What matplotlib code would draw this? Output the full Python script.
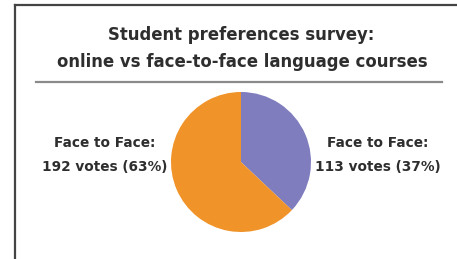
import matplotlib
matplotlib.use('Agg')
import matplotlib.pyplot as plt
from matplotlib.lines import Line2D

plt.rcParams['font.family'] = ['DejaVu Sans']

title_lines = ['Student preferences survey:', 'online vs face-to-face language courses']
slice_names = ['Face to Face', 'Face to Face']
votes = [113, 192]
colors = ['#7F7DBE', '#F09328']

W, H = 457, 259
fig = plt.figure(figsize=(W / 100, H / 100), dpi=100)

def fx(px):
    return px / W

def fy(py):
    return 1 - py / H

# frame (top + left border) and separator
fig.add_artist(Line2D([fx(15), fx(15)], [fy(5), fy(259)], color='#444', lw=1.6))
fig.add_artist(Line2D([fx(15), fx(457)], [fy(5), fy(5)], color='#444', lw=1.6))
fig.add_artist(Line2D([fx(36), fx(442)], [fy(82), fy(82)], color='#8a8a8a', lw=1.6))

fig.text(fx(241), fy(35), title_lines[0], ha='center', va='center',
         fontsize=11.9, fontweight='bold', color='#2e2e2e')
fig.text(fx(242), fy(62), title_lines[1], ha='center', va='center',
         fontsize=11.9, fontweight='bold', color='#2e2e2e')

# pie
r = 70
cx, cy = 241, 162
ax = fig.add_axes([fx(cx - r), fy(cy + r), 2 * r / W, 2 * r / H])
ax.pie(votes, colors=colors, startangle=90, counterclock=False,
       wedgeprops=dict(linewidth=0))
ax.set_xlim(-1, 1)
ax.set_ylim(-1, 1)
ax.axis('off')

total = sum(votes)
labels = [f'{n}:\n{v} votes ({round(v / total * 100)}%)' for n, v in zip(slice_names, votes)]
fig.text(fx(378), fy(155), labels[0], ha='center', va='center',
         fontsize=9.8, fontweight='bold', color='#2e2e2e', linespacing=1.9)
fig.text(fx(105), fy(155), labels[1], ha='center', va='center',
         fontsize=9.8, fontweight='bold', color='#2e2e2e', linespacing=1.9)

plt.savefig('out.png', dpi=100)
plt.close()
